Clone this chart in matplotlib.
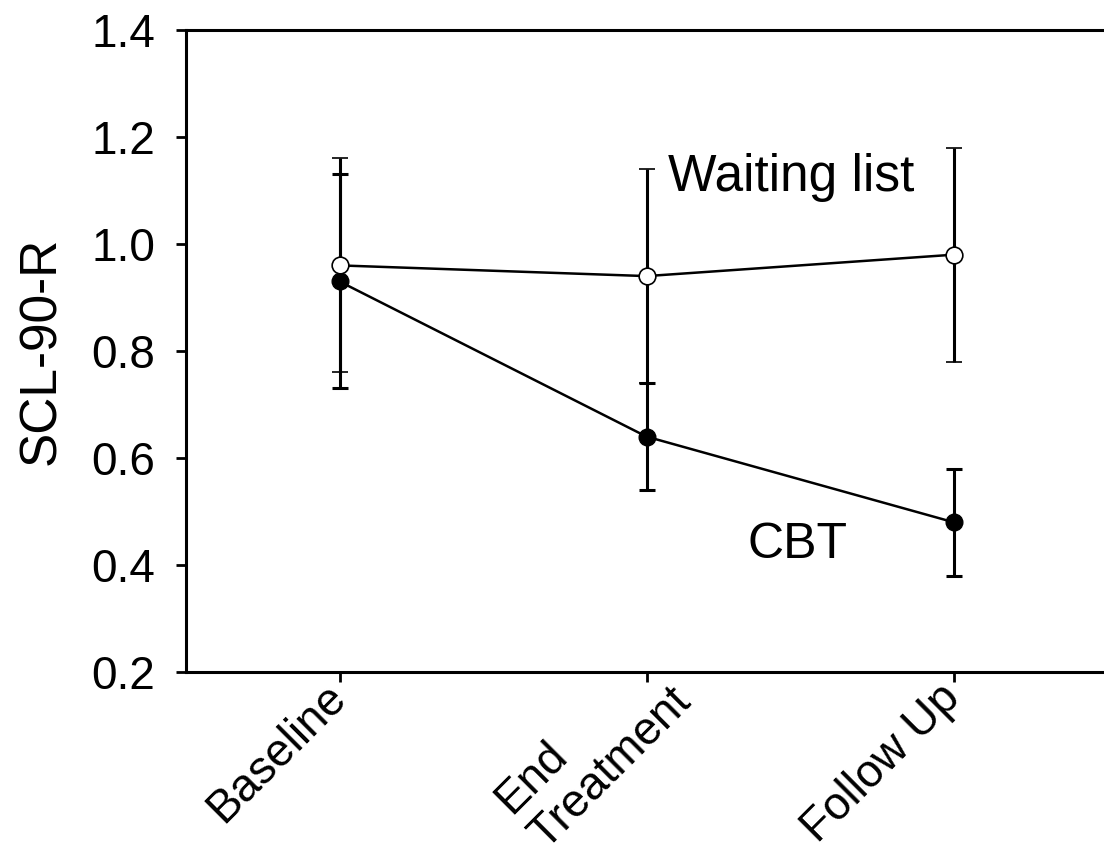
import matplotlib
matplotlib.use("Agg")
import matplotlib.pyplot as plt
from matplotlib.transforms import ScaledTranslation

timepoints = ["Baseline", "End\nTreatment", "Follow Up"]
x_pos = [1, 2, 3]
waiting_mean = [0.96, 0.94, 0.98]
waiting_err = [0.20, 0.20, 0.20]
cbt_mean = [0.93, 0.64, 0.48]
cbt_err = [0.20, 0.10, 0.10]
y_ticks = [0.2, 0.4, 0.6, 0.8, 1.0, 1.2, 1.4]

plt.rcParams['font.family'] = ['Liberation Sans', 'DejaVu Sans']

fig = plt.figure(figsize=(11.04, 8.52), dpi=100)
ax = fig.add_axes([186/1104, 1 - 672/852, (1107-186)/1104, (672-30)/852])

ax.errorbar(x_pos, cbt_mean, yerr=cbt_err, color='black', lw=1.8, elinewidth=2.2,
            capsize=5.5, capthick=2.2, marker='o', ms=12, mfc='black', mec='black',
            zorder=3)
ax.errorbar(x_pos, waiting_mean, yerr=waiting_err, color='black', lw=1.8, elinewidth=2.2,
            capsize=5.5, capthick=2.2, marker='o', ms=12, mfc='white', mec='black',
            mew=1.2, zorder=4)

ax.set_xlim(0.5, 3.5)
ax.set_ylim(0.2, 1.4)
ax.set_yticks(y_ticks)
ax.set_yticklabels([f"{v:.1f}" for v in y_ticks])
ax.set_xticks(x_pos)
ax.set_xticklabels(timepoints, rotation=45, ha='right', va='center',
                   rotation_mode='anchor', multialignment='left',
                   linespacing=1.15)
ax.tick_params(axis='both', direction='out', length=7, width=2)
ax.tick_params(axis='y', labelsize=33, pad=15)
ax.tick_params(axis='x', labelsize=33, pad=7)
for s in ['left', 'top', 'bottom']:
    ax.spines[s].set_linewidth(2.2)
ax.spines['right'].set_visible(False)

# nudge the two-line label to sit like the reference
mid = ax.get_xticklabels()[1]
mid.set_transform(mid.get_transform() + ScaledTranslation(20/100, 14/100, fig.dpi_scale_trans))

ax.set_ylabel("SCL-90-R", fontsize=37, labelpad=18)

fig.text(668/1104, 1 - 178/852, "Waiting list", fontsize=37, va='center', ha='left')
fig.text(748/1104, 1 - 545/852, "CBT", fontsize=36, va='center', ha='left')

fig.savefig("out.png", dpi=100)
